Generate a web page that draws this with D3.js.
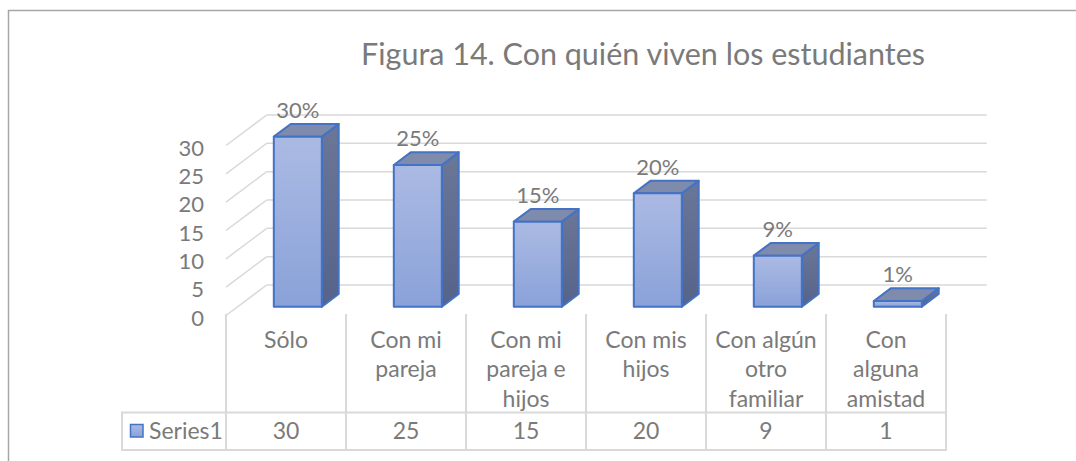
<!DOCTYPE html>
<meta charset="utf-8">
<style>
body {
  margin: 0;
  background: #fff;
}

text {
  font-family: Lato, "Open Sans", sans-serif;
  fill: #7a7a7a;
}

.grid line {
  stroke: #d9d9d9;
  stroke-width: 1.5px;
}

.bar path {
  stroke: #4472c4;
  stroke-width: 2px;
  stroke-linejoin: round;
}

.table line {
  stroke: #d9d9d9;
  stroke-width: 2px;
}
</style>
<body>
<script src="https://cdn.jsdelivr.net/npm/d3@7"></script>
<script>

var title = "Figura 14. Con quién viven los estudiantes";
var seriesName = "Series1";
var categories = ["Sólo", "Con mi pareja", "Con mi pareja e hijos", "Con mis hijos", "Con algún otro familiar", "Con alguna amistad"];
var categoryLines = [["Sólo"], ["Con mi", "pareja"], ["Con mi", "pareja e", "hijos"], ["Con mis", "hijos"], ["Con algún", "otro", "familiar"], ["Con", "alguna", "amistad"]];
var values = [30, 25, 15, 20, 9, 1];
var percentLabels = ["30%", "25%", "15%", "20%", "9%", "1%"];
var yTicks = [0, 5, 10, 15, 20, 25, 30];

var width = 1076,
    height = 461;

// front floor edge and the depth offset of the back wall
var floorY = 315.5,
    depthX = 40.7,
    depthY = -30.5,
    zFront = 0.29,
    zBack = 0.705,
    barFrac = 0.4;

var x = d3.scaleBand()
    .domain(categories)
    .range([226, 946])
    .paddingInner(0)
    .paddingOuter(0);

var y = d3.scaleLinear()
    .domain([0, 30])
    .range([0, 170]);

// project (front x, value, depth 0..1) to screen
function px(fx, z) { return fx + z * depthX; }
function py(v, z) { return floorY + z * depthY - y(v); }

var svg = d3.select("body").append("svg")
    .attr("width", width)
    .attr("height", height);

var defs = svg.append("defs");

function grad(id, top, bottom) {
  var g = defs.append("linearGradient")
      .attr("id", id)
      .attr("x1", 0).attr("y1", 0)
      .attr("x2", 0).attr("y2", 1);
  g.append("stop").attr("offset", "0%").attr("stop-color", top);
  g.append("stop").attr("offset", "100%").attr("stop-color", bottom);
}
grad("front", "#abbae3", "#8aa2d9");
grad("side", "#6b7797", "#56638a");

// chart frame
svg.append("path")
    .attr("d", "M8.5," + height + "V10.5H" + width)
    .attr("fill", "none")
    .attr("stroke", "#a6a6a6")
    .attr("stroke-width", 1.5);

svg.append("text")
    .attr("x", 643)
    .attr("y", 65)
    .attr("text-anchor", "middle")
    .attr("font-size", "30.5px")
    .text(title);

// back wall gridlines and side wall diagonals
var grid = svg.append("g").attr("class", "grid");

grid.selectAll(".back")
  .data(yTicks)
  .enter().append("line")
    .attr("x1", px(x.range()[0], 1))
    .attr("x2", px(x.range()[1], 1))
    .attr("y1", function(d) { return py(d, 1); })
    .attr("y2", function(d) { return py(d, 1); });

grid.selectAll(".side")
  .data(yTicks)
  .enter().append("line")
    .attr("x1", x.range()[0])
    .attr("x2", px(x.range()[0], 1))
    .attr("y1", function(d) { return py(d, 0); })
    .attr("y2", function(d) { return py(d, 1); });

svg.append("g")
  .selectAll("text")
  .data(yTicks)
  .enter().append("text")
    .attr("x", 204)
    .attr("y", function(d) { return py(d, 0) + 2.5; })
    .attr("dy", "0.35em")
    .attr("text-anchor", "end")
    .attr("font-size", "22px")
    .text(function(d) { return d; });

// 3D columns
var bw = x.bandwidth() * barFrac;

var bar = svg.append("g")
  .selectAll("g")
  .data(values)
  .enter().append("g")
    .attr("class", "bar");

function left(d, i) { return x(categories[i]) + (x.bandwidth() - bw) / 2; }

bar.append("path")
    .attr("fill", "url(#side)")
    .attr("d", function(d, i) {
      var l = left(d, i) + bw;
      return "M" + px(l, zFront) + "," + py(0, zFront) +
          "L" + px(l, zBack) + "," + py(0, zBack) +
          "L" + px(l, zBack) + "," + py(d, zBack) +
          "L" + px(l, zFront) + "," + py(d, zFront) + "Z";
    });

bar.append("path")
    .attr("fill", "#7f8bac")
    .attr("d", function(d, i) {
      var l = left(d, i), r = l + bw;
      return "M" + px(l, zFront) + "," + py(d, zFront) +
          "L" + px(l, zBack) + "," + py(d, zBack) +
          "L" + px(r, zBack) + "," + py(d, zBack) +
          "L" + px(r, zFront) + "," + py(d, zFront) + "Z";
    });

bar.append("path")
    .attr("fill", "url(#front)")
    .attr("d", function(d, i) {
      var l = left(d, i), r = l + bw;
      return "M" + px(l, zFront) + "," + py(0, zFront) +
          "L" + px(l, zFront) + "," + py(d, zFront) +
          "L" + px(r, zFront) + "," + py(d, zFront) +
          "L" + px(r, zFront) + "," + py(0, zFront) + "Z";
    });

bar.append("text")
    .attr("x", function(d, i) { return px(left(d, i) + bw / 2, zFront); })
    .attr("y", function(d) { return py(d, zBack) - 6; })
    .attr("text-anchor", "middle")
    .attr("font-size", "22px")
    .text(function(d, i) { return percentLabels[i]; });

// data table
var table = svg.append("g").attr("class", "table");
var rowTop = 412.5,
    rowBottom = 450,
    legendLeft = 122;

table.selectAll(".col")
  .data(d3.range(categories.length + 1))
  .enter().append("line")
    .attr("x1", function(i) { return i < categories.length ? x(categories[i]) : x.range()[1]; })
    .attr("x2", function(i) { return i < categories.length ? x(categories[i]) : x.range()[1]; })
    .attr("y1", 314)
    .attr("y2", rowBottom);

table.append("line")
    .attr("x1", legendLeft).attr("x2", legendLeft)
    .attr("y1", rowTop).attr("y2", rowBottom);

table.selectAll(".row")
  .data([rowTop, rowBottom])
  .enter().append("line")
    .attr("x1", legendLeft - 1)
    .attr("x2", x.range()[1] + 1)
    .attr("y1", function(d) { return d; })
    .attr("y2", function(d) { return d; });

var cat = svg.append("g")
  .selectAll("text")
  .data(categoryLines)
  .enter().append("text")
    .attr("text-anchor", "middle")
    .attr("font-size", "23px")
    .attr("transform", function(d, i) { return "translate(" + (x(categories[i]) + x.bandwidth() / 2) + ",340)"; });

cat.selectAll("tspan")
  .data(function(d) { return d; })
  .enter().append("tspan")
    .attr("x", 0)
    .attr("y", function(d, j) { return j * 29.3; })
    .attr("dy", "0.35em")
    .text(function(d) { return d; });

svg.append("g")
  .selectAll("text")
  .data(values)
  .enter().append("text")
    .attr("x", function(d, i) { return x(categories[i]) + x.bandwidth() / 2; })
    .attr("y", 431)
    .attr("dy", "0.35em")
    .attr("text-anchor", "middle")
    .attr("font-size", "23px")
    .text(function(d) { return d; });

svg.append("rect")
    .attr("x", 130.5)
    .attr("y", 424.5)
    .attr("width", 12.5)
    .attr("height", 12.5)
    .attr("fill", "url(#front)")
    .attr("stroke", "#4472c4")
    .attr("stroke-width", 1.5);

svg.append("text")
    .attr("x", 149)
    .attr("y", 431)
    .attr("dy", "0.35em")
    .attr("font-size", "23px")
    .text(seriesName);

</script>
